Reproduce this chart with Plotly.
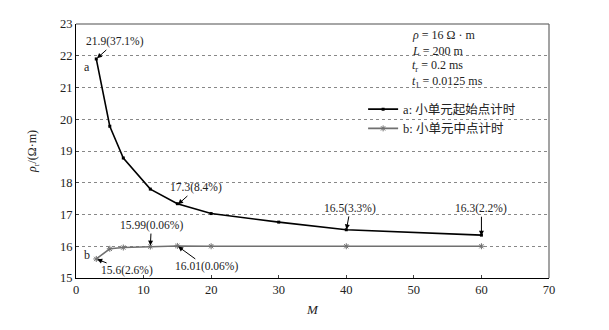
import plotly.graph_objects as go

M_a = [3, 5, 7, 11, 15, 20, 30, 40, 60]
rho_a = [21.9, 19.78, 18.78, 17.8, 17.34, 17.03, 16.76, 16.52, 16.35]
M_b = [3, 5, 7, 11, 15, 20, 40, 60]
rho_b = [15.6, 15.92, 15.96, 15.99, 16.01, 16.0, 16.0, 16.0]

x_ticks = [0, 10, 20, 30, 40, 50, 60, 70]
y_ticks = [15, 16, 17, 18, 19, 20, 21, 22, 23]

legend_a = "a: 小单元起始点计时"
legend_b = "b: 小单元中点计时"

# annotation: (x, y, text, ax, ay)
notes = [
    (3, 21.9, "21.9(37.1%)", 19, -17),
    (15, 17.3, "17.3(8.4%)", 19, -17),
    (11, 15.99, "15.99(0.06%)", 1, -21),
    (15, 16.01, "16.01(0.06%)", 29, 21),
    (3, 15.6, "15.6(2.6%)", 31, 12),
    (40, 16.5, "16.5(3.3%)", 4, -22),
    (60, 16.3, "16.3(2.2%)", 0, -28),
]

FONT = "Liberation Serif, Times New Roman, Noto Sans CJK SC, serif"

fig = go.Figure()
fig.add_trace(go.Scatter(
    x=M_a, y=rho_a, mode="lines+markers", name=legend_a,
    line=dict(color="black", width=1.6),
    marker=dict(symbol="square", size=3, color="black"),
))
fig.add_trace(go.Scatter(
    x=M_b, y=rho_b, mode="lines+markers", name=legend_b,
    line=dict(color="#707070", width=1.6),
    marker=dict(symbol="asterisk-open", size=5, color="#707070", line=dict(width=1, color="#707070")),
))

annotations = []
for x, y, t, ax, ay in notes:
    annotations.append(dict(
        x=x, y=y, xref="x", yref="y", text=t, showarrow=True,
        ax=ax, ay=ay, arrowhead=2, arrowsize=1, arrowwidth=1,
        arrowcolor="black", standoff=1,
        font=dict(family=FONT, size=11.5, color="#222"),
    ))
annotations.append(dict(x=1.6, y=21.65, text="a", showarrow=False,
                        font=dict(family=FONT, size=12, color="#222")))
annotations.append(dict(x=1.6, y=15.72, text="b", showarrow=False,
                        font=dict(family=FONT, size=12, color="#222")))

params = [
    "<i>ρ</i> = 16 Ω · m",
    "<i>L</i> = 200 m",
    "<i>t</i><sub>r</sub> = 0.2 ms",
    "<i>t</i><sub>1</sub> = 0.0125 ms",
]
for i, p in enumerate(params):
    annotations.append(dict(
        xref="paper", yref="paper", x=(410 - 76) / 473, y=(278 - (35 + i * 15.5)) / 254,
        xanchor="left", yanchor="middle", text=p, showarrow=False,
        font=dict(family=FONT, size=12, color="#222"),
    ))

fig.update_layout(
    width=609, height=330,
    margin=dict(l=76, r=60, t=24, b=52),
    paper_bgcolor="white", plot_bgcolor="white",
    font=dict(family=FONT, size=12.5, color="#222"),
    showlegend=True,
    legend=dict(x=0.607, y=(278 - 119) / 254, xanchor="left", yanchor="middle",
                bgcolor="rgba(0,0,0,0)", font=dict(family=FONT, size=12.5, color="#222"),
                tracegroupgap=2, itemwidth=30),
    annotations=annotations,
    xaxis=dict(
        range=[0, 70], tickvals=x_ticks, ticks="inside", ticklen=3,
        showgrid=False, zeroline=False, showline=True, linecolor="black", linewidth=1.2,
        title=dict(text="<i>M</i>", font=dict(family=FONT, size=13), standoff=8),
        tickfont=dict(family=FONT, size=12.5),
    ),
    yaxis=dict(
        range=[15, 23], tickvals=y_ticks, ticks="inside", ticklen=3,
        showgrid=True, gridcolor="#888", griddash="dot", gridwidth=1,
        zeroline=False, showline=True, linecolor="black", linewidth=1.2,
        title=dict(text="<i>ρ</i><sub>r</sub>/(Ω·m)", font=dict(family=FONT, size=12), standoff=20),
        tickfont=dict(family=FONT, size=12.5),
    ),
    shapes=[
        dict(type="line", xref="paper", yref="paper", x0=0, x1=1, y0=1, y1=1,
             line=dict(color="#888", width=1.5)),
        dict(type="line", xref="paper", yref="paper", x0=1, x1=1, y0=0, y1=1,
             line=dict(color="#666", width=1.2)),
    ],
)

fig.write_html("out.html")
